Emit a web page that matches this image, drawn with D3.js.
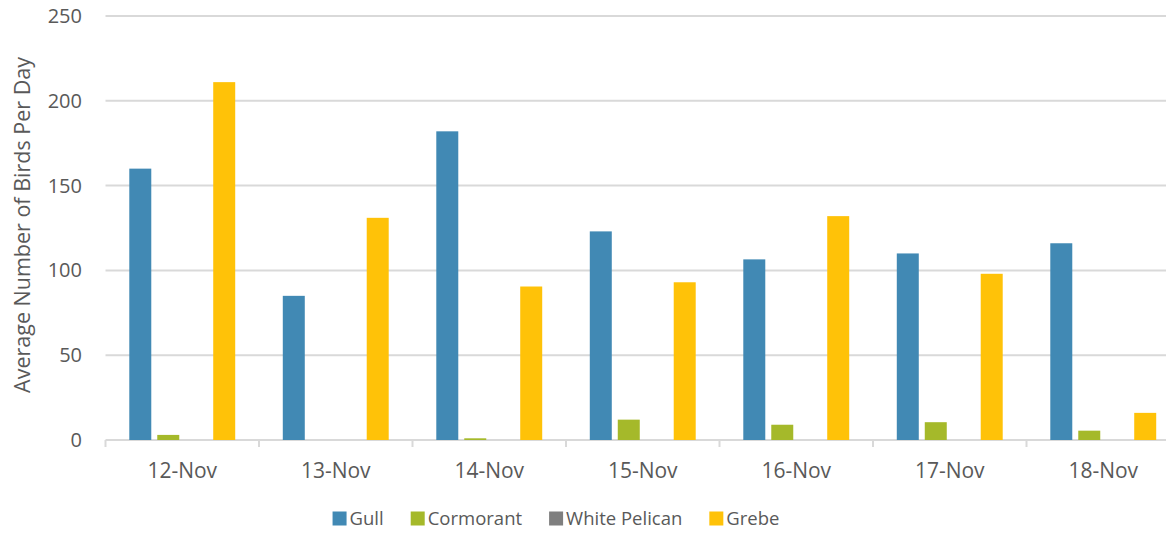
<!DOCTYPE html>
<html>
<head>
<meta charset="utf-8">
<script src="https://cdn.jsdelivr.net/npm/d3@7"></script>
<style>
  html, body { margin: 0; padding: 0; background: #fff; }
  svg { display: block; }
  text { font-family: "Open Sans", sans-serif; fill: #595959; }
</style>
</head>
<body>
<svg id="chart" width="1166" height="533"></svg>
<script>
const categories = ["12-Nov", "13-Nov", "14-Nov", "15-Nov", "16-Nov", "17-Nov", "18-Nov"];
const seriesNames = ["Gull", "Cormorant", "White Pelican", "Grebe"];
const gull = [160, 85, 182, 123, 106.5, 110, 116];
const cormorant = [3, 0, 1, 12, 9, 10.5, 5.5];
const whitePelican = [0, 0, 0, 0, 0, 0, 0];
const grebe = [211, 131, 90.5, 93, 132, 98, 16];
const yTicks = [0, 50, 100, 150, 200, 250];
const colors = ["#4189B4", "#A5B92A", "#7F7F7F", "#FFC208"];

(function () {
const seriesValues = [gull, cormorant, whitePelican, grebe];

const svg = d3.select("#chart");
const W = 1166;
const pLeft = 105.5, pRight = 1180, pTop = 16, pBottom = 440;

const x0 = d3.scaleBand().domain(categories).range([pLeft, pRight]).padding(0);
const bw = x0.bandwidth();
const outer = bw * 0.155;
const x1 = d3.scaleBand().domain(seriesNames).range([outer, bw - outer]).paddingInner(0.214).paddingOuter(0);
const y = d3.scaleLinear().domain([0, 250]).range([pBottom, pTop]);

// gridlines
svg.append("g").selectAll("line").data(yTicks).join("line")
  .attr("x1", pLeft).attr("x2", W)
  .attr("y1", d => y(d)).attr("y2", d => y(d))
  .attr("stroke", "#D9D9D9").attr("stroke-width", 2);

// category boundary ticks
const bounds = categories.map(c => x0(c)).concat([x0(categories[categories.length - 1]) + bw]);
svg.append("g").selectAll("line").data(bounds).join("line")
  .attr("x1", d => d).attr("x2", d => d)
  .attr("y1", pBottom).attr("y2", pBottom + 7)
  .attr("stroke", "#D9D9D9").attr("stroke-width", 2);

// y tick labels
svg.append("g").selectAll("text").data(yTicks).join("text")
  .attr("x", 82).attr("y", d => y(d))
  .attr("dy", "0.35em")
  .attr("text-anchor", "end")
  .style("font-size", "20px")
  .text(d => d);

// bars
const groups = svg.append("g").selectAll("g").data(categories).join("g")
  .attr("transform", c => `translate(${x0(c)},0)`);
groups.selectAll("rect")
  .data((c, i) => seriesNames.map((s, j) => ({ s, v: seriesValues[j][i], color: colors[j] })))
  .join("rect")
  .attr("x", d => x1(d.s))
  .attr("width", x1.bandwidth())
  .attr("y", d => y(d.v))
  .attr("height", d => pBottom - y(d.v))
  .attr("fill", d => d.color);

// category labels
svg.append("g").selectAll("text").data(categories).join("text")
  .attr("x", c => x0(c) + bw / 2).attr("y", 477.5)
  .attr("text-anchor", "middle")
  .style("font-size", "21px")
  .text(c => c);

// y-axis title
svg.append("text")
  .attr("transform", "translate(30,225) rotate(-90)")
  .attr("text-anchor", "middle")
  .style("font-size", "21.5px")
  .text("Average Number of Birds Per Day");

// legend
const legend = svg.append("g");
let cx = 0;
seriesNames.forEach((s, j) => {
  const g = legend.append("g");
  g.append("rect").attr("x", 0).attr("y", -7).attr("width", 14).attr("height", 14).attr("fill", colors[j]);
  const t = g.append("text").attr("x", 17).attr("y", 0).attr("dy", "0.35em").style("font-size", "18.5px").text(s);
  const w = 17 + t.node().getComputedTextLength();
  g.attr("transform", `translate(${cx},0)`);
  cx += w + 27;
});
const totalW = cx - 27;
legend.attr("transform", `translate(${556 - totalW / 2},518.5)`);
})();
</script>
</body>
</html>
